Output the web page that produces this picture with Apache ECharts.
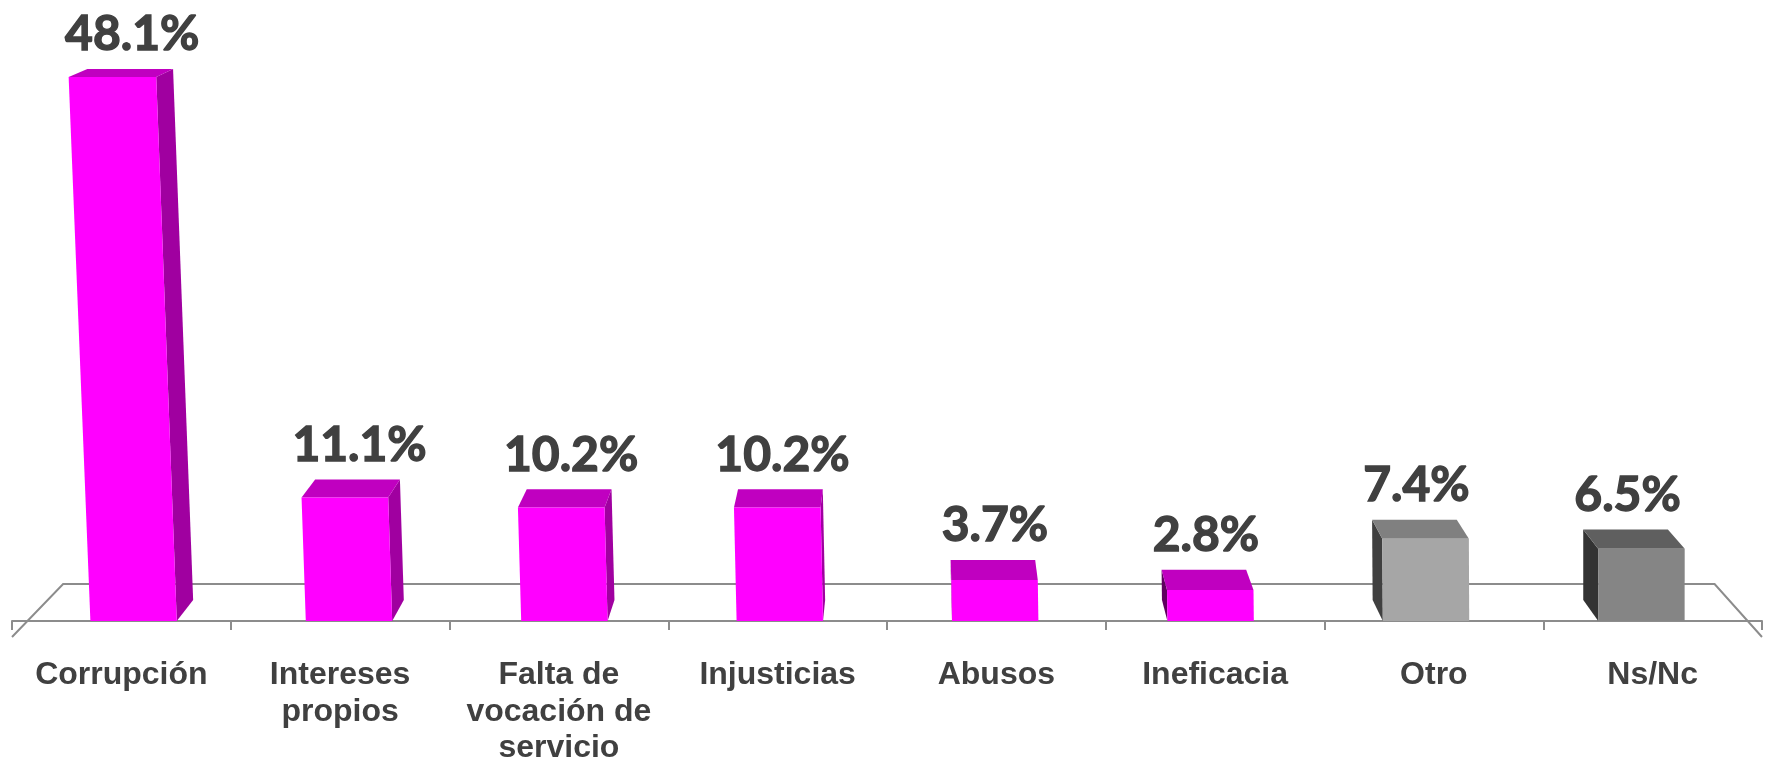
<!DOCTYPE html>
<html>
<head>
<meta charset="utf-8">
<script src="https://cdn.jsdelivr.net/npm/echarts@6/dist/echarts.min.js"></script>
<style>
  html, body { margin: 0; padding: 0; background: #fff; }
  #chart { width: 1768px; height: 762px; }
</style>
</head>
<body>
<div id="chart"></div>
<script>
// data
const categories = ['Corrupción', 'Intereses\npropios', 'Falta de\nvocación de\nservicio', 'Injusticias', 'Abusos', 'Ineficacia', 'Otro', 'Ns/Nc'];
const values = [48.1, 11.1, 10.2, 10.2, 3.7, 2.8, 7.4, 6.5];

// face colours per bar: front, top, side
const magenta = { front: '#ff00ff', top: '#c000c0', side: '#a000a0', sideL: '#600060' };
const faceColors = [magenta, magenta, magenta, magenta, magenta, magenta,
    { front: '#a6a6a6', top: '#808080', side: '#404040', sideL: '#404040' },
    { front: '#858585', top: '#5f5f5f', side: '#333333', sideL: '#333333' }];

const VX = 920;          // vanishing x of the fake 3d
const lineGray = '#8c8c8c';

function lean(x) { return -0.0000258 * (1640 - x); }

function backOf(p, hh) {
    const dx = 0.022 * (VX - p[0]);
    const dy = 21 - 0.0239 * hh;
    return [p[0] + dx, p[1] - dy];
}

function renderBar(params, api) {
    const i = api.value(0);
    const v = api.value(1);
    const base = api.coord([i, 0]);
    const top = api.coord([i, v]);
    const w = api.size([1, 0])[0] * 0.395;
    const cx = base[0] + 0.0153 * (VX - base[0]);
    const y0 = base[1];
    const hLin = y0 - top[1];
    const h = hLin + 3.9e-5 * hLin * hLin;
    const pt = (x, hh) => [x + hh * lean(x), y0 - hh];

    const FLb = pt(cx - w / 2, 0), FRb = pt(cx + w / 2, 0);
    const FLt = pt(cx - w / 2, h), FRt = pt(cx + w / 2, h);
    const BLb = backOf(FLb, 0), BRb = backOf(FRb, 0);
    const BLt = backOf(FLt, h), BRt = backOf(FRt, h);
    const c = faceColors[i];

    const children = [];
    if (BRt[0] > FRt[0] + 0.5) {
        children.push({ type: 'polygon', shape: { points: [FRb, BRb, BRt, FRt] }, style: { fill: c.side } });
    } else if (BLt[0] < FLt[0] - 0.5) {
        children.push({ type: 'polygon', shape: { points: [FLb, BLb, BLt, FLt] }, style: { fill: c.sideL } });
    }
    children.push({ type: 'polygon', shape: { points: [FLt, FRt, BRt, BLt] }, style: { fill: c.top } });
    children.push({ type: 'polygon', shape: { points: [FLb, FRb, FRt, FLt] }, style: { fill: c.front } });
    children.push({
        type: 'text',
        x: (BLt[0] + BRt[0]) / 2 + 2,
        y: Math.min(BLt[1], BRt[1]) - 34,
        style: {
            text: v.toFixed(1) + '%',
            font: 'bold 48px Lato',
            fill: '#404040',
            stroke: '#404040',
            lineWidth: 1.4,
            align: 'center',
            verticalAlign: 'middle'
        }
    });
    return { type: 'group', children: children };
}

function renderFloor(params, api) {
    const cs = params.coordSys;
    const left = cs.x, right = cs.x + cs.width, bottom = cs.y + cs.height;
    const depth = 53;
    const bl = [left + 0.0563 * (VX - left), bottom - depth];
    const br = [right + 0.0563 * (VX - right), bottom - depth];
    return {
        type: 'polyline',
        shape: { points: [[left, bottom], bl, br, [right, bottom]] },
        style: { stroke: lineGray, lineWidth: 2, fill: null }
    };
}

let dom = document.getElementById('chart');
let myChart = echarts.init(dom);

let option = {
    animation: false,
    grid: { left: 12, right: 6, top: 67, bottom: 125, outerBoundsMode: 'none' },
    xAxis: {
        type: 'category',
        data: categories,
        axisLine: { lineStyle: { color: lineGray, width: 2 } },
        axisTick: { show: true, length: 9, lineStyle: { color: lineGray, width: 2 } },
        axisLabel: {
            interval: 0,
            margin: 20,
            fontFamily: 'Liberation Sans',
            fontWeight: 'bold',
            fontSize: 32,
            lineHeight: 36.5,
            color: '#404040'
        }
    },
    yAxis: { type: 'value', min: -1.444, max: 50, show: false },
    series: [
        {
            type: 'custom',
            z: 1,
            renderItem: renderFloor,
            data: [[0, 0]],
            silent: true
        },
        {
            type: 'custom',
            z: 2,
            renderItem: renderBar,
            data: values.map((v, i) => [i, v])
        }
    ]
};

myChart.setOption(option);
</script>
</body>
</html>
